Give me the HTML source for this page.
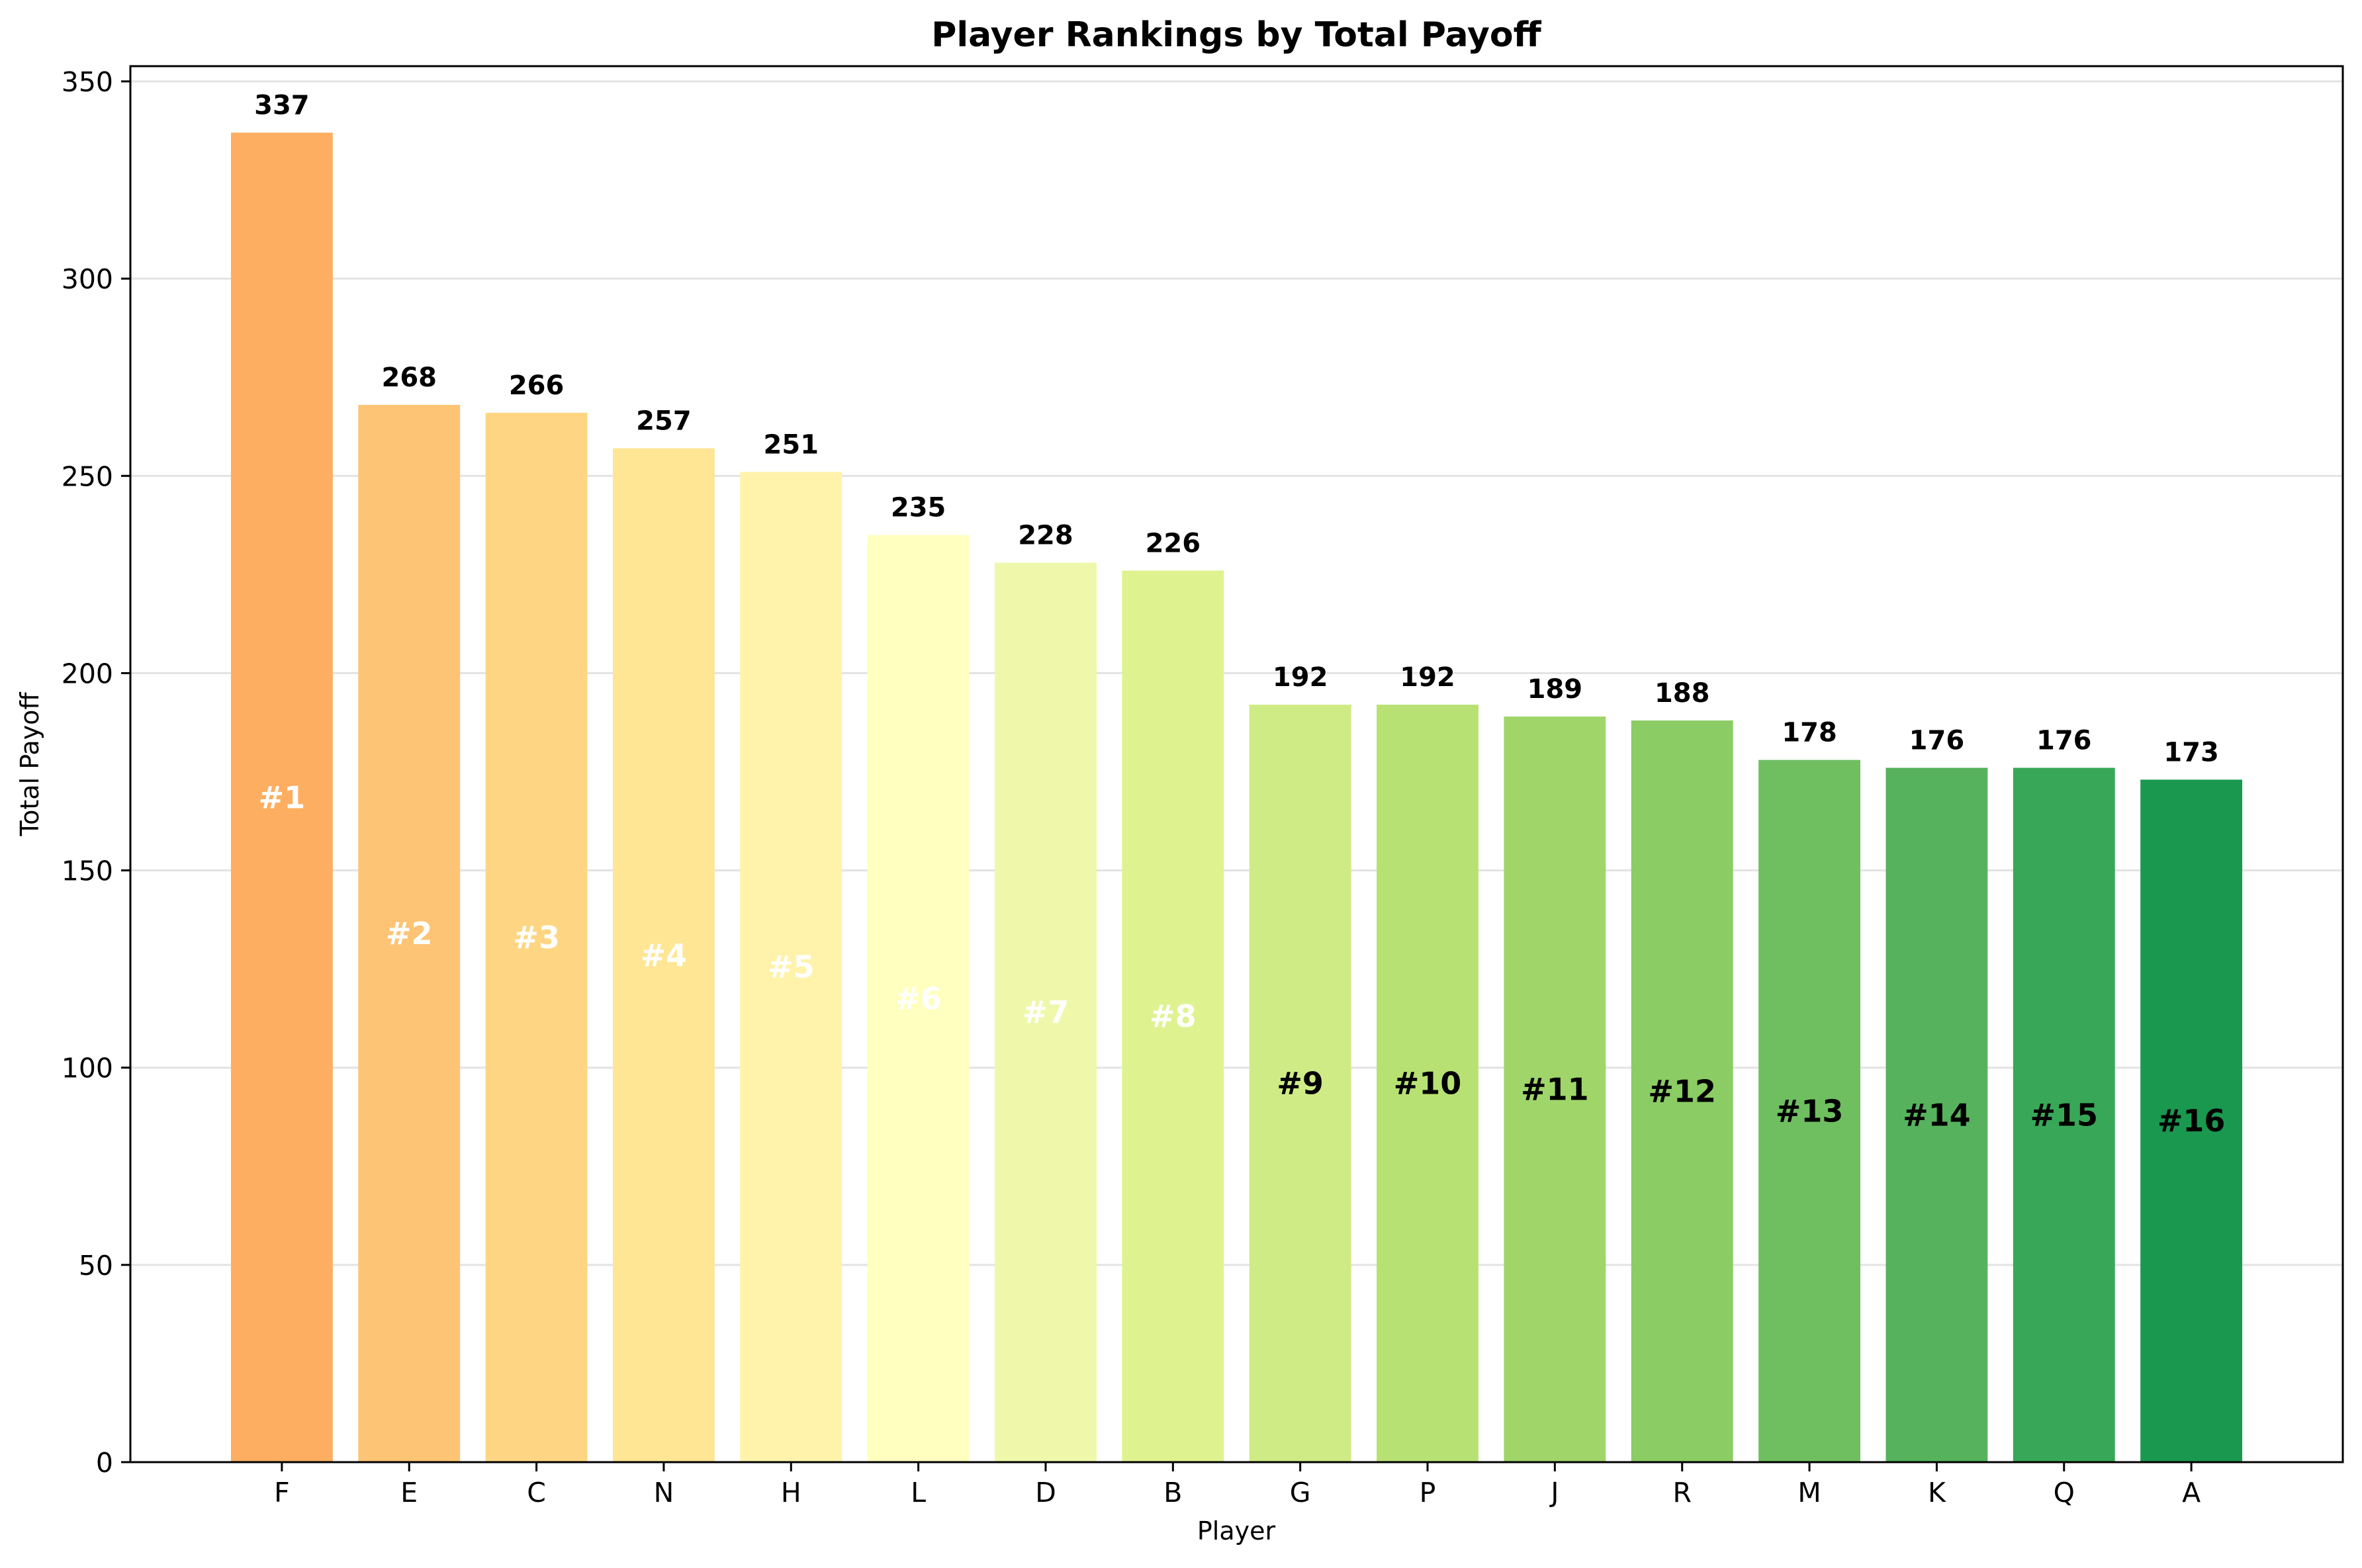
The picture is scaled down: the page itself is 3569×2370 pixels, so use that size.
<!DOCTYPE html>
<html><head><meta charset="utf-8"><style>
body{margin:0;background:#fff;}
svg{display:block;font-family:"DejaVu Sans","Liberation Sans",sans-serif;}
</style></head><body>
<svg id="chart" width="3569" height="2370" viewBox="0 0 3569 2370" xmlns="http://www.w3.org/2000/svg">
<rect width="3569" height="2370" fill="#fff"/>
<g id="grid"></g><g id="bars"></g><g id="labels"></g><g id="axes"></g>
<text x="1868" y="70" text-anchor="middle" font-size="52" font-weight="bold">Player Rankings by Total Payoff</text>
<text x="1868" y="2327" text-anchor="middle" font-size="38">Player</text>
<text transform="translate(58,1155) rotate(-90)" text-anchor="middle" font-size="38">Total Payoff</text>
</svg>
<script>
const players = ["F","E","C","N","H","L","D","B","G","P","J","R","M","K","Q","A"];
const payoffs = [337,268,266,257,251,235,228,226,192,192,189,188,178,176,176,173];
const yTicks = [0,50,100,150,200,250,300,350];
const colors = ["#fdae61","#fdc475","#fed683","#fee695","#fff3ab","#ffffbf","#eff8aa","#dff290","#cfeb85","#b8e173","#a0d669","#8bcc64","#6fbf61","#56b25d","#39a758","#1a9850"];

const NS="http://www.w3.org/2000/svg";
const L=197,R=3540,T=100,B=2210,Y350=123;
const n=players.length;
const xmin=-0.4-0.05*(n-0.2), xmax=n-1+0.4+0.05*(n-0.2);
function xs(v){return L+(v-xmin)/(xmax-xmin)*(R-L);}
function ys(v){return B-v*(B-Y350)/350;}
function mk(tag,attrs,parent,text){const e=document.createElementNS(NS,tag);for(const k in attrs)e.setAttribute(k,attrs[k]);if(text!==undefined)e.textContent=text;document.getElementById(parent).appendChild(e);return e;}
const unit=(R-L)/(xmax-xmin);
yTicks.forEach(t=>{
  const g=mk('line',{x1:L,x2:R,y1:ys(t),y2:ys(t),stroke:'#e3e3e3','stroke-width':3},'grid');
  
  
  const tk=mk('line',{x1:L-14,x2:L,y1:ys(t),y2:ys(t),stroke:'#000','stroke-width':3},'axes');
  
  
  const tl=mk('text',{x:L-26,y:ys(t)+15,'text-anchor':'end','font-size':41},'axes',String(t));
  
  
});
payoffs.forEach((v,i)=>{
  const cx=xs(i),w=0.8*unit;
  const r=mk('rect',{x:cx-w/2,y:ys(v),width:w,height:ys(0)-ys(v),fill:colors[i]},'bars');
  
  
  const vl=mk('text',{x:cx,y:ys(v)-28,'text-anchor':'middle','font-size':40,'font-weight':'bold'},'labels',String(v));
  
  
  const rk=mk('text',{x:cx,y:ys(v/2)+16,'text-anchor':'middle','font-size':46,'font-weight':'bold',fill:i<8?'#fff':'#000'},'labels','#'+(i+1));
  
  
  const tk=mk('line',{x1:cx,x2:cx,y1:B,y2:B+14,stroke:'#000','stroke-width':3},'axes');
  
  
  const xl=mk('text',{x:cx,y:B+60,'text-anchor':'middle','font-size':41},'axes',players[i]);
  
  
});
const fr=mk('rect',{x:L,y:T,width:R-L,height:B-T,fill:'none',stroke:'#000','stroke-width':3},'axes');


</script>
</body></html>
